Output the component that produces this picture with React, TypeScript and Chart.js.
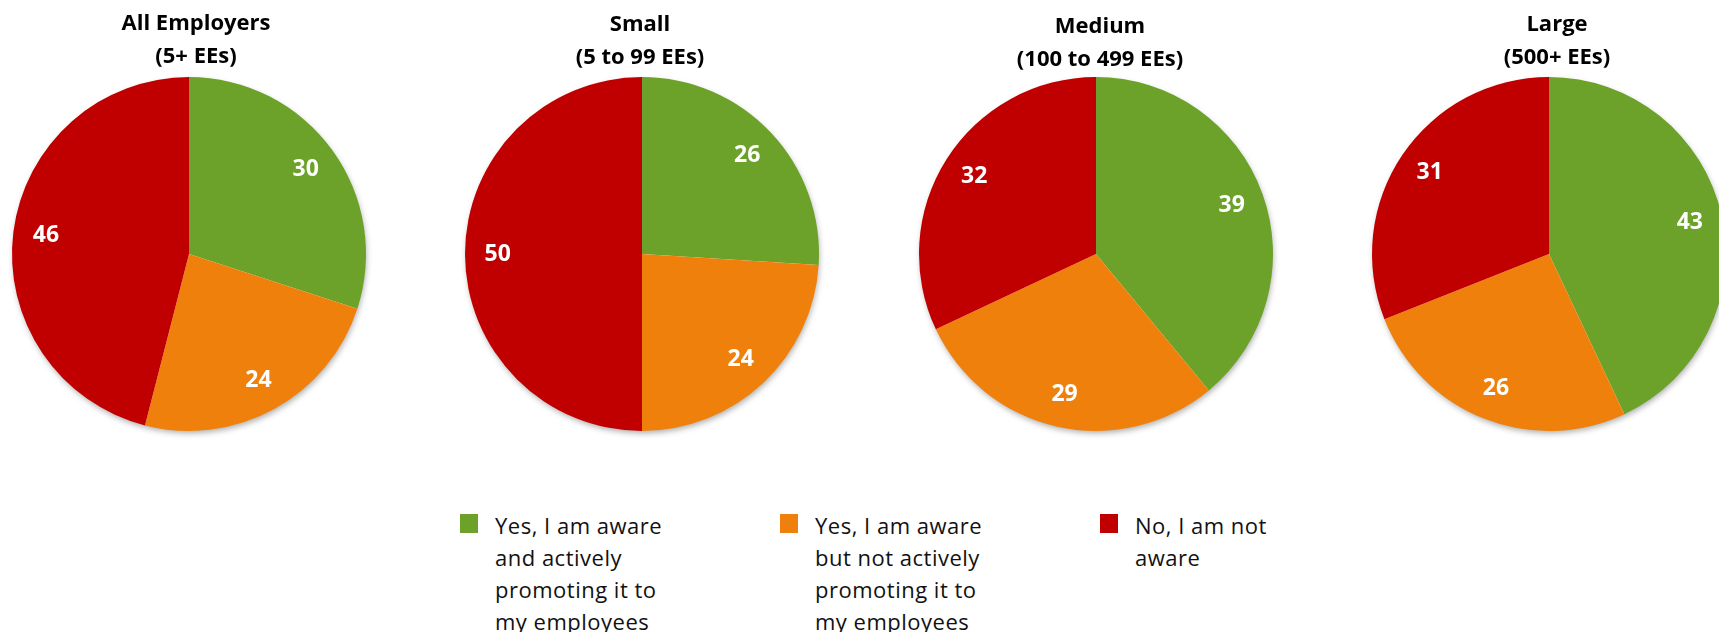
import React, { useEffect, useRef } from "react";
import { Chart, registerables } from "chart.js";

Chart.register(...registerables);

// ---- data ----
const categories = [
  "Yes, I am aware and actively promoting it to my employees",
  "Yes, I am aware but not actively promoting it to my employees",
  "No, I am not aware",
];
const legendLines = [
  ["Yes, I am aware", "and actively", "promoting it to", "my employees"],
  ["Yes, I am aware", "but not actively", "promoting it to", "my employees"],
  ["No, I am not", "aware"],
];
const groupTitles = [
  ["All Employers", "(5+ EEs)"],
  ["Small", "(5 to 99 EEs)"],
  ["Medium", "(100 to 499 EEs)"],
  ["Large", "(500+ EEs)"],
];
const allEmployers = [30, 24, 46];
const small = [26, 24, 50];
const medium = [39, 29, 32];
const large = [43, 26, 31];
const groupValues = [allEmployers, small, medium, large];
const colors = ["#6ca12a", "#ef800c", "#c00000"];

// ---- layout ----
const FONT = '"Open Sans", "DejaVu Sans", sans-serif';
const pieCenters = [189, 642, 1096, 1549];
const titleCenters = [196, 640, 1100, 1557];
const titleBaselines = [30, 31, 33, 31];
const TITLE_LINE = 33;
const CANVAS_W = 400;
const CANVAS_H = 440;
const legendSquareX = [460, 780, 1100];
const legendTextX = [495, 815, 1135];

const shadowPlugin = {
  id: "pieShadow",
  beforeDatasetsDraw(chart: any) {
    const meta = chart.getDatasetMeta(0);
    const arc = meta.data[0];
    if (!arc) return;
    const { x, y, outerRadius } = arc.getProps(["x", "y", "outerRadius"], true);
    const ctx = chart.ctx;
    ctx.save();
    ctx.shadowColor = "rgba(0,0,0,0.35)";
    ctx.shadowBlur = 6;
    ctx.shadowOffsetX = 1;
    ctx.shadowOffsetY = 3;
    ctx.fillStyle = "#ffffff";
    ctx.beginPath();
    ctx.arc(x, y, outerRadius - 1, 0, Math.PI * 2);
    ctx.fill();
    ctx.restore();
  },
};

const labelPlugin = {
  id: "sliceLabels",
  afterDatasetsDraw(chart: any) {
    const ctx = chart.ctx;
    const meta = chart.getDatasetMeta(0);
    const data = chart.data.datasets[0].data;
    ctx.save();
    ctx.font = `bold 23px ${FONT}`;
    ctx.fillStyle = "#ffffff";
    ctx.textAlign = "center";
    ctx.textBaseline = "middle";
    meta.data.forEach((arc: any, i: number) => {
      const { x, y, startAngle, endAngle, outerRadius } = arc.getProps(
        ["x", "y", "startAngle", "endAngle", "outerRadius"],
        true
      );
      const mid = (startAngle + endAngle) / 2;
      const r = outerRadius * 0.815;
      ctx.fillText(String(data[i]), x + Math.cos(mid) * r, y + Math.sin(mid) * r);
    });
    ctx.restore();
  },
};

const titlePlugin = {
  id: "groupTitle",
  afterDraw(chart: any, _args: any, opts: any) {
    const ctx = chart.ctx;
    const lines: string[] = opts.lines || [];
    ctx.save();
    ctx.font = `bold 22px ${FONT}`;
    ctx.fillStyle = "#000000";
    ctx.textAlign = "center";
    ctx.textBaseline = "alphabetic";
    lines.forEach((line, j) => {
      ctx.fillText(line, opts.cx, opts.baseline + j * TITLE_LINE);
    });
    ctx.restore();
  },
};

function Pie({ index }: { index: number }) {
  const ref = useRef<HTMLCanvasElement | null>(null);
  const canvasLeft = pieCenters[index] - CANVAS_W / 2;
  useEffect(() => {
    if (!ref.current) return;
    const chart = new Chart(ref.current, {
      type: "pie",
      data: {
        labels: categories,
        datasets: [
          {
            data: groupValues[index],
            backgroundColor: colors,
            borderWidth: 0,
          },
        ],
      },
      options: {
        animation: false,
        responsive: false,
        maintainAspectRatio: false,
        layout: { padding: { left: 23, right: 23, top: 77, bottom: 9 } },
        plugins: {
          legend: { display: false },
          tooltip: { enabled: false },
          title: { display: false },
          groupTitle: {
            lines: groupTitles[index],
            cx: titleCenters[index] - canvasLeft,
            baseline: titleBaselines[index],
          },
        } as any,
      },
      plugins: [shadowPlugin, labelPlugin, titlePlugin],
    });
    return () => chart.destroy();
  }, [index]);
  return (
    <canvas
      ref={ref}
      width={CANVAS_W}
      height={CANVAS_H}
      style={{
        position: "absolute",
        left: canvasLeft,
        top: 0,
        width: CANVAS_W,
        height: CANVAS_H,
      }}
    />
  );
}

export default function App() {
  return (
    <div
      style={{
        position: "absolute",
        left: 0,
        top: 0,
        width: 1719,
        height: 632,
        overflow: "hidden",
        background: "#ffffff",
      }}
    >
      {groupTitles.map((_, i) => (
        <Pie key={i} index={i} />
      ))}
      {legendLines.map((lines, i) => (
        <React.Fragment key={i}>
          <div
            style={{
              position: "absolute",
              left: legendSquareX[i],
              top: 514,
              width: 18,
              height: 19,
              background: colors[i],
            }}
          />
          <div
            style={{
              position: "absolute",
              left: legendTextX[i],
              top: 509,
              fontFamily: FONT,
              fontSize: 22,
              letterSpacing: "0.5px",
              lineHeight: "32px",
              color: "#111111",
              whiteSpace: "nowrap",
            }}
          >
            {lines.map((l, j) => (
              <div key={j}>{l}</div>
            ))}
          </div>
        </React.Fragment>
      ))}
    </div>
  );
}
